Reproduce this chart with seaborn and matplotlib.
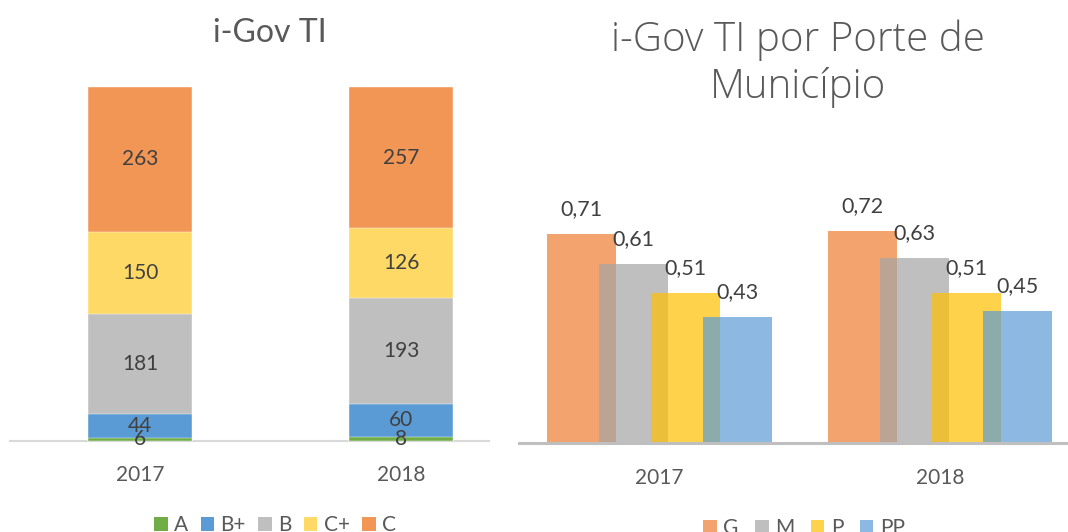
import matplotlib
matplotlib.use("Agg")
import matplotlib.pyplot as plt
import seaborn as sns
import pandas as pd
import numpy as np
from matplotlib.patches import Patch

# ---- data -------------------------------------------------------------
years = ["2017", "2018"]

grades = ["A", "B+", "B", "C+", "C"]
count_A = [6, 8]
count_Bplus = [44, 60]
count_B = [181, 193]
count_Cplus = [150, 126]
count_C = [263, 257]
grade_counts = [count_A, count_Bplus, count_B, count_Cplus, count_C]
grade_colors = ["#70AD47", "#5B9BD5", "#BFBFBF", "#FFD966", "#F29656"]

sizes = ["G", "M", "P", "PP"]
index_G = [0.71, 0.72]
index_M = [0.61, 0.63]
index_P = [0.51, 0.51]
index_PP = [0.43, 0.45]
size_values = [index_G, index_M, index_P, index_PP]
size_colors = ["#ED7D31", "#A5A5A5", "#FFC000", "#5B9BD5"]

# ---- style ------------------------------------------------------------
sns.set_theme(style="white")
plt.rcParams["font.family"] = ["Lato", "DejaVu Sans"]
TEXT = "#595959"
LABEL = "#404040"

W, H = 1068, 532
fig = plt.figure(figsize=(W / 100, H / 100), dpi=100)


def px_axes(x0, y_top, x1, y_bottom):
    return fig.add_axes([x0 / W, (H - y_bottom) / H, (x1 - x0) / W, (y_bottom - y_top) / H])


# ---- left: stacked counts --------------------------------------------
ax1 = px_axes(10, 60, 489, 441)
cum = np.cumsum(np.array(grade_counts), axis=0)
# draw from the tallest cumulative bar down so each segment shows its band
for i in range(len(grades) - 1, -1, -1):
    df = pd.DataFrame({"year": years, "total": cum[i]})
    sns.barplot(data=df, x="year", y="total", order=years, color=grade_colors[i],
                saturation=1, width=0.4, errorbar=None, edgecolor="white",
                linewidth=0.3, ax=ax1)

for i, vals in enumerate(grade_counts):
    for j, v in enumerate(vals):
        ax1.text(j, cum[i][j] - v / 2, str(v), ha="center", va="center",
                 fontsize=15, color=LABEL)

ax1.set_xlim(-0.498, 1.337)
ax1.set_ylim(0, 693)
ax1.set_xlabel("")
ax1.set_ylabel("")
ax1.set_yticks([])
ax1.tick_params(axis="x", length=0, pad=17, labelsize=15, labelcolor=TEXT)
for s in ["left", "right", "top"]:
    ax1.spines[s].set_visible(False)
ax1.spines["bottom"].set_color("#D9D9D9")
ax1.spines["bottom"].set_linewidth(1.5)
ax1.spines["bottom"].set_zorder(0.5)

fig.text(270 / W, 1 - 33 / H, "i-Gov TI", ha="center", va="center",
         fontsize=23, color=TEXT)

# ---- right: overlapping grouped bars ---------------------------------
ax2 = px_axes(519, 150, 1068, 443)
step = 0.185
bar_w = 0.246
offsets = (np.arange(len(sizes)) - (len(sizes) - 1) / 2) * step
base = np.arange(len(years))
for k, vals in enumerate(size_values):
    xs = base + offsets[k]
    sns.barplot(x=xs, y=vals, native_scale=True, width=bar_w, color=size_colors[k],
                saturation=1, alpha=0.7, errorbar=None, linewidth=0, ax=ax2)
    for x, v in zip(xs, vals):
        ax2.annotate(f"{v:.2f}".replace(".", ","), (x, v), xytext=(0, 18),
                     textcoords="offset points", ha="center", va="center",
                     fontsize=15.5, color=LABEL)

ax2.set_xticks(base)
ax2.set_xticklabels(years)
ax2.set_xlim(-0.501, 1.456)
ax2.set_ylim(0, 0.997)
ax2.set_xlabel("")
ax2.set_ylabel("")
ax2.set_yticks([])
ax2.tick_params(axis="x", length=0, pad=18, labelsize=15, labelcolor=TEXT)
for s in ["left", "right", "top"]:
    ax2.spines[s].set_visible(False)
ax2.spines["bottom"].set_color("#BFBFBF")
ax2.spines["bottom"].set_linewidth(2.2)

fig.text(798 / W, 1 - 64 / H, "i-Gov TI por Porte de\nMunicípio", ha="center",
         va="center", fontsize=29, fontweight=300, color=TEXT, linespacing=1.2,
         family=["Open Sans", "DejaVu Sans"])

# ---- legends ----------------------------------------------------------
h1 = [Patch(facecolor=c, edgecolor="none") for c in grade_colors]
fig.legend(h1, grades, loc="center", bbox_to_anchor=(275 / W, 1 - 525 / H),
           ncol=5, frameon=False, fontsize=15, labelcolor=TEXT,
           handlelength=0.65, handleheight=0.65, handletextpad=0.3,
           columnspacing=0.6, borderpad=0)

h2 = [Patch(facecolor=c, edgecolor="none", alpha=0.7) for c in size_colors]
fig.legend(h2, sizes, loc="center", bbox_to_anchor=(804 / W, 1 - 528 / H),
           ncol=4, frameon=False, fontsize=15, labelcolor=TEXT,
           handlelength=0.65, handleheight=0.65, handletextpad=0.3,
           columnspacing=0.8, borderpad=0)

fig.savefig("out.png", dpi=100)
